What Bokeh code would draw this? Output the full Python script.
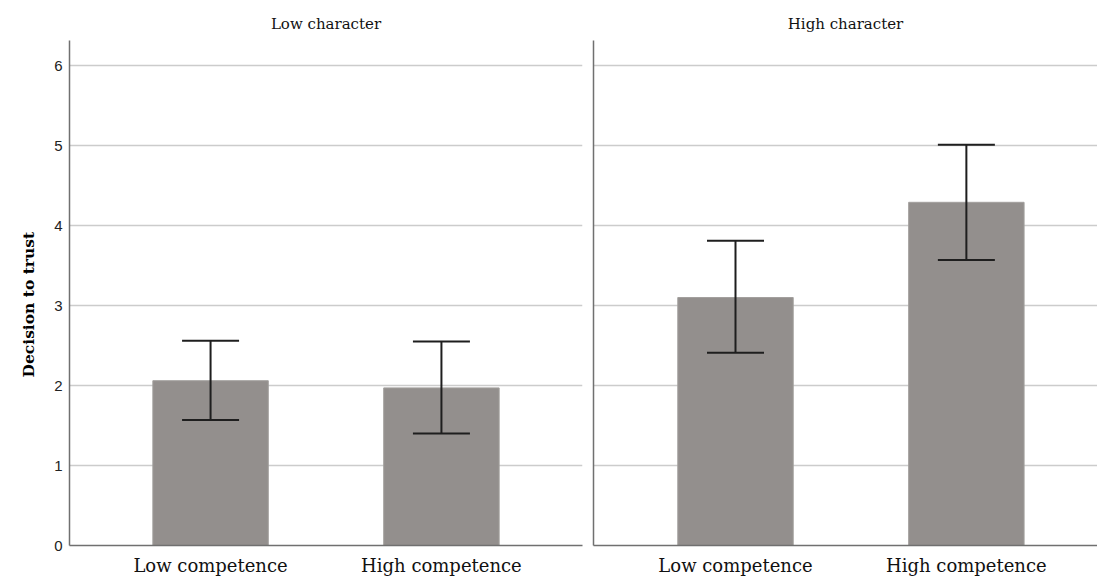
from bokeh.plotting import figure
from bokeh.models import ColumnDataSource, Range1d, FixedTicker, Whisker, TeeHead, Title
from bokeh.layouts import row
from bokeh.embed import file_html
from bokeh.resources import INLINE

categories = ["Low competence", "High competence"]
panels = ["Low character", "High character"]
y_title = "Decision to trust"
means_low = [2.06, 1.97]
upper_low = [2.56, 2.55]
lower_low = [1.57, 1.40]
means_high = [3.10, 4.29]
upper_high = [3.81, 5.01]
lower_high = [2.41, 3.57]
y_ticks = [0, 1, 2, 3, 4, 5, 6]

BAR = "#938f8d"
ERR = "#1e1e1e"
AXIS = "#707070"
GRID = "#cccccc"
SERIF = "DejaVu Serif"

xpos = [i + 0.5 for i in range(len(categories))]
overrides = {x: c for x, c in zip(xpos, categories)}


def make_panel(title, means, upper, lower, width, xr, left_border, right_border, show_y):
    p = figure(width=width, height=579, x_range=xr, y_range=Range1d(0, 6.3125),
               toolbar_location=None, output_backend="svg",
               min_border_left=left_border, min_border_right=right_border,
               min_border_top=40, min_border_bottom=34, title=title)
    p.title.align = "center"
    p.title.text_font = SERIF
    p.title.text_font_size = "15px"
    p.title.text_font_style = "normal"
    p.title.text_color = "#111111"
    p.title.standoff = 16
    p.outline_line_color = None
    p.background_fill_color = "white"
    p.border_fill_color = "white"

    src = ColumnDataSource(dict(x=xpos, m=means, u=upper, l=lower))
    p.vbar(x="x", top="m", width=0.5, source=src, fill_color=BAR,
           line_color="#a3a09e", line_width=1)
    w = Whisker(base="x", upper="u", lower="l", source=src, line_color=ERR,
                line_width=2, level="overlay",
                upper_head=TeeHead(size=57, line_color=ERR, line_width=2),
                lower_head=TeeHead(size=57, line_color=ERR, line_width=2))
    p.add_layout(w)

    p.xgrid.grid_line_color = None
    p.ygrid.grid_line_color = GRID
    p.ygrid.grid_line_width = 1.5
    p.yaxis.ticker = FixedTicker(ticks=y_ticks)
    p.xaxis.ticker = FixedTicker(ticks=xpos)
    p.xaxis.major_label_overrides = overrides

    for ax in (p.xaxis, p.yaxis):
        ax.axis_line_color = AXIS
        ax.axis_line_width = 1.5
        ax.major_tick_line_color = None
        ax.minor_tick_line_color = None
        ax.major_tick_in = 0
        ax.major_tick_out = 0

    p.xaxis.major_label_text_font = SERIF
    p.xaxis.major_label_text_font_size = "18px"
    p.xaxis.major_label_text_color = "#111111"
    p.xaxis.major_label_standoff = 9

    if show_y:
        p.yaxis.major_label_text_font = "Liberation Sans"
        p.yaxis.major_label_text_font_size = "15px"
        p.yaxis.major_label_text_color = "#222222"
        p.yaxis.major_label_standoff = 7
        yt = Title(text=y_title, align="left", offset=168,
                   text_font=SERIF, text_font_style="bold",
                   text_font_size="15.5px", text_color="#000000", standoff=28)
        p.add_layout(yt, "left")
    else:
        p.yaxis.major_label_text_font_size = "0px"
        p.yaxis.major_label_standoff = 0
    return p


scale = 513 / 2.222
x_left = Range1d(-0.111, 2.111)
start_r = 0.5 - 142 / scale
x_right = Range1d(start_r, start_r + 504 / scale)

p1 = make_panel(panels[0], means_low, upper_low, lower_low, 588, x_left, 69, 6, True)
p2 = make_panel(panels[1], means_high, upper_high, lower_high, 509, x_right, 5, 0, False)

layout = row(p1, p2)
open("out.html", "w").write(file_html(layout, INLINE))
